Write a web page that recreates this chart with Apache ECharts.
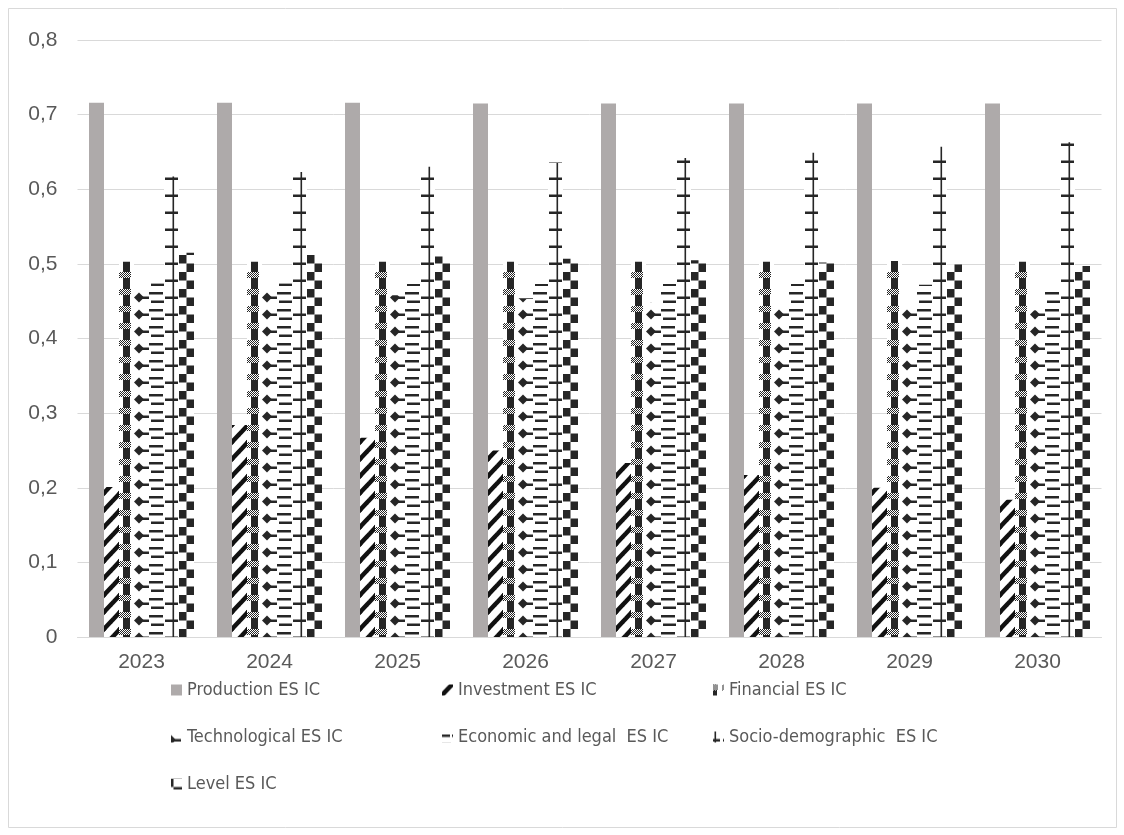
<!DOCTYPE html>
<html>
<head>
<meta charset="utf-8">
<script src="https://cdn.jsdelivr.net/npm/echarts@6/dist/echarts.min.js"></script>
<style>
  html, body { margin: 0; padding: 0; background: #ffffff; }
  #chart { width: 1124px; height: 835px; }
</style>
</head>
<body>
<div id="chart"></div>
<script>
// Indicator values per year
const years = ['2023', '2024', '2025', '2026', '2027', '2028', '2029', '2030'];
const production    = [0.716, 0.716, 0.716, 0.715, 0.715, 0.715, 0.715, 0.715];
const investment    = [0.201, 0.284, 0.267, 0.250, 0.233, 0.217, 0.200, 0.184];
const financial     = [0.503, 0.503, 0.503, 0.503, 0.503, 0.503, 0.504, 0.503];
const technological = [0.466, 0.462, 0.458, 0.454, 0.449, 0.445, 0.441, 0.438];
const economicLegal = [0.474, 0.474, 0.473, 0.473, 0.473, 0.473, 0.472, 0.465];
const socioDemo     = [0.617, 0.623, 0.630, 0.636, 0.642, 0.649, 0.657, 0.663];
const level         = [0.515, 0.512, 0.510, 0.507, 0.505, 0.502, 0.499, 0.497];
const yTicks        = ['0', '0,1', '0,2', '0,3', '0,4', '0,5', '0,6', '0,7', '0,8'];

const seriesNames = [
  'Production ES IC',
  'Investment ES IC',
  'Financial ES IC',
  'Technological ES IC',
  'Economic and legal  ES IC',
  'Socio-demographic  ES IC',
  'Level ES IC'
];
const seriesValues = [production, investment, financial, technological, economicLegal, socioDemo, level];

// Layout constants
const GRID_LEFT = 77.5, GRID_TOP = 40, GRID_WIDTH = 1024, GRID_HEIGHT = 597;
const BAR_W = 15;
const TILE_W = 16, TILE_H = 17;
const DARK = '#262626';
const GREY = '#AEAAAA';
const TEXT = '#595959';
const LEGEND_COLS = [171, 442, 713];

// Left edge of bar i in the first year group
function barLeft(i) {
  const catW = GRID_WIDTH / years.length;
  return GRID_LEFT + (catW - BAR_W * seriesNames.length) / 2 + BAR_W * i;
}

// Repeating hatch tile, shifted so the motif starts at screen x = anchorX
function makeTile(anchorX, draw) {
  const c = document.createElement('canvas');
  c.width = TILE_W; c.height = TILE_H;
  const ctx = c.getContext('2d');
  ctx.fillStyle = '#ffffff';
  ctx.fillRect(0, 0, TILE_W, TILE_H);
  const ph = ((anchorX % TILE_W) + TILE_W) % TILE_W;
  for (const dx of [-TILE_W, 0, TILE_W]) {
    for (const dy of [-TILE_H, 0, TILE_H]) {
      ctx.save();
      ctx.translate(ph + dx, dy);
      draw(ctx);
      ctx.restore();
    }
  }
  return { image: c, repeat: 'repeat' };
}

// Hatch motifs, drawn in bar-relative coordinates
const motifs = [
  null,
  function (ctx) { // wide upward diagonal
    ctx.strokeStyle = '#111111';
    ctx.lineWidth = 4.5;
    ctx.beginPath();
    ctx.moveTo(-1, TILE_H + 1);
    ctx.lineTo(TILE_W + 1, -1);
    ctx.stroke();
  },
  function (ctx) { // dark column with small checker blocks
    ctx.fillStyle = DARK;
    ctx.fillRect(4, 0, 7, TILE_H);
    for (let y = 0; y < 6; y++) {
      for (let x = 0; x < 12; x++) {
        ctx.fillStyle = ((x + y) % 2) ? DARK : '#ffffff';
        ctx.fillRect(x, y, 1, 1);
      }
    }
  },
  function (ctx) { // diamonds with a horizontal stem
    ctx.fillStyle = DARK;
    ctx.beginPath();
    ctx.moveTo(0, 8.5);
    ctx.lineTo(5, 3.5);
    ctx.lineTo(10, 8.5);
    ctx.lineTo(5, 13.5);
    ctx.closePath();
    ctx.fill();
    ctx.fillRect(6, 7.5, 9, 2.5);
  },
  function (ctx) { // horizontal dashes
    ctx.fillStyle = DARK;
    ctx.fillRect(0, 3, 14, 2.5);
    ctx.fillRect(2, 11.5, 13, 2.5);
  },
  function (ctx) { // vertical line with cross ticks
    ctx.fillStyle = DARK;
    ctx.fillRect(8.5, 0, 1.6, TILE_H);
    ctx.fillRect(1, 7.5, 13, 2.5);
  },
  function (ctx) { // large checkerboard
    ctx.fillStyle = DARK;
    ctx.fillRect(0, 0, 7.5, 8.5);
    ctx.fillRect(7.5, 8.5, 8.5, 8.5);
  }
];

const fills = seriesNames.map(function (n, i) {
  return i === 0 ? GREY : makeTile(barLeft(i), motifs[i]);
});

const series = seriesNames.map(function (name, i) {
  return {
    name: name,
    type: 'bar',
    data: seriesValues[i],
    barWidth: BAR_W,
    barGap: '0%',
    itemStyle: { color: fills[i] },
    emphasis: { disabled: true },
    silent: true
  };
});

const legendFont = {
  fontFamily: '"Liberation Sans Narrow", "DejaVu Sans Condensed", sans-serif',
  fontSize: 18,
  color: TEXT,
  lineHeight: 20
};
function legendColumn(indices, col) {
  const left = LEGEND_COLS[col];
  return {
    data: indices.map(function (i) {
      return {
        name: seriesNames[i],
        itemStyle: { color: i === 0 ? GREY : makeTile(left, motifs[i]) }
      };
    }),
    orient: 'vertical',
    left: left,
    top: 680,
    padding: 0,
    itemWidth: 11,
    itemHeight: 11,
    itemGap: 27,
    icon: 'rect',
    selectedMode: false,
    textStyle: legendFont
  };
}

const axisFont = {
  fontFamily: '"Liberation Sans", Arial, sans-serif',
  fontSize: 21,
  color: TEXT
};

const chart = echarts.init(document.getElementById('chart'), null, { renderer: 'canvas' });
chart.setOption({
  animation: false,
  backgroundColor: '#ffffff',
  grid: {
    left: GRID_LEFT, top: GRID_TOP, width: GRID_WIDTH, height: GRID_HEIGHT,
    containLabel: false, outerBoundsMode: 'none'
  },
  xAxis: {
    type: 'category',
    data: years,
    axisLine: { show: true, lineStyle: { color: '#D9D9D9', width: 1 } },
    axisTick: { show: false },
    axisLabel: Object.assign({ margin: 15 }, axisFont)
  },
  yAxis: {
    type: 'value',
    min: 0, max: 0.8, interval: 0.1,
    axisLine: { show: false },
    axisTick: { show: false },
    splitLine: { lineStyle: { color: '#D9D9D9', width: 1 } },
    axisLabel: Object.assign({
      margin: 20,
      formatter: function (v) { return yTicks[Math.round(v * 10)]; }
    }, axisFont)
  },
  legend: [
    legendColumn([0, 3, 6], 0),
    legendColumn([1, 4], 1),
    legendColumn([2, 5], 2)
  ],
  graphic: [{
    type: 'rect',
    silent: true,
    shape: { x: 8.5, y: 8.5, width: 1108, height: 819 },
    style: { fill: 'none', stroke: '#D9D9D9', lineWidth: 1 }
  }],
  series: series
});
</script>
</body>
</html>
